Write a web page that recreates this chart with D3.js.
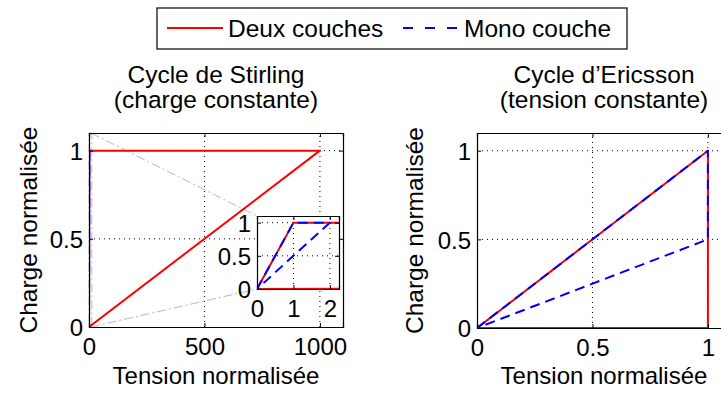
<!DOCTYPE html>
<html>
<head>
<meta charset="utf-8">
<script src="https://cdn.jsdelivr.net/npm/d3@7"></script>
<style>
  html, body { margin: 0; padding: 0; background: #fff; }
  svg { display: block; font-family: "Liberation Sans", Arial, sans-serif; }
</style>
</head>
<body>
<svg id="chart" width="721" height="394"></svg>
<script>
// Stirling cycle (constant charge): normalised voltage / charge paths
const stirlingTensionDeux = [0, 1, 1000, 0];
const stirlingChargeDeux  = [0, 1, 1, 0];
const stirlingTensionMono = [0, 1, 2, 0];
const stirlingChargeMono  = [0, 1, 1, 0];

// Ericsson cycle (constant voltage)
const ericssonTensionDeux = [0, 1, 1, 0];
const ericssonChargeDeux  = [0, 1, 0, 0];
const ericssonTensionMono = [0, 1, 1, 0];
const ericssonChargeMono  = [0, 1, 0.5, 0];

// Axis ticks
const stirlingXTicks = [0, 500, 1000];
const insetXTicks    = [0, 1, 2];
const ericssonXTicks = [0, 0.5, 1];
const chargeTicks    = [0, 0.5, 1];

// Zoomed region shown in the inset (Stirling plot)
const zoomTension = [0, 12];
const zoomCharge  = [0, 1.1];

const titles = [["Cycle de Stirling", "(charge constante)"], ["Cycle d\u2019Ericsson", "(tension constante)"]];
const legendLabels = ["Deux couches", "Mono couche"];
const xLabel = "Tension normalis\u00e9e";
const yLabel = "Charge normalis\u00e9e";

const RED = "#ff0000", BLUE = "#0000ff";
const FS = 24.5;      // titles, legend, y labels
const FS_TICK = 24;   // tick labels
const FS_XLAB = 24;   // x labels
const svg = d3.select("#chart");

const toPts = (xs, ys) => xs.map((x, i) => [x, ys[i]]);

function panel(opts) {
  const { x, y, ticksX, ticksY, fontSize, clipId } = opts;
  const g = svg.append("g");
  const [x0, x1] = x.range(), [y0, y1] = y.range();
  g.append("rect").attr("x", x0).attr("y", y1).attr("width", x1 - x0).attr("height", y0 - y1)
    .attr("fill", "#fff");
  // dotted grid
  const gridG = g.append("g").attr("stroke", "#000").attr("stroke-width", 1).attr("stroke-dasharray", "1,4");
  ticksX.filter(t => t !== 0).forEach(t => {
    gridG.append("line").attr("x1", x(t)).attr("x2", x(t)).attr("y1", y0).attr("y2", y1);
  });
  ticksY.filter(t => t !== 0).forEach(t => {
    gridG.append("line").attr("x1", x0).attr("x2", x1).attr("y1", y(t)).attr("y2", y(t));
  });
  svg.append("clipPath").attr("id", clipId).append("rect")
    .attr("x", x0).attr("y", y1).attr("width", x1 - x0).attr("height", y0 - y1);
  const guides = g.append("g");
  const plot = g.append("g").attr("clip-path", `url(#${clipId})`);
  const fmt = d => d3.format("")(d);
  // axes with inward ticks, box on all sides
  const tl = 4;
  const ax = [
    [d3.axisBottom(x).tickValues(ticksX).tickSize(-tl).tickFormat(fmt), `translate(0,${y0})`],
    [d3.axisTop(x).tickValues(ticksX).tickSize(-tl).tickFormat(""), `translate(0,${y1})`],
    [d3.axisLeft(y).tickValues(ticksY).tickSize(-tl).tickFormat(fmt), `translate(${x0},0)`],
    [d3.axisRight(y).tickValues(ticksY).tickSize(-tl).tickFormat(""), `translate(${x1},0)`]
  ];
  const axesG = g.append("g");
  ax.forEach(([a, tr], i) => {
    const ag = axesG.append("g").attr("transform", tr).call(a);
    ag.select(".domain").attr("stroke", "#000").attr("stroke-width", 1.2);
    ag.selectAll(".tick line").attr("stroke", "#000");
    ag.selectAll(".tick text").attr("font-size", fontSize).attr("fill", "#000")
      .attr("font-family", "Liberation Sans, Arial, sans-serif");
    if (i === 0) ag.selectAll(".tick text").attr("y", 0).attr("dy", 0).attr("transform", "translate(0,28)");
    if (i === 2) ag.selectAll(".tick text").attr("x", -6).attr("dy", "0.36em");
  });
  return { g, plot, guides };
}

function drawSeries(plot, x, y, pts, color, dashed) {
  const line = d3.line().x(d => x(d[0])).y(d => y(d[1]));
  plot.append("path").attr("d", line(pts)).attr("fill", "none")
    .attr("stroke", color).attr("stroke-width", 2)
    .attr("stroke-linejoin", "round")
    .attr("stroke-dasharray", dashed ? "10,6" : null);
}

// ---------- Stirling (left) ----------
const xS = d3.scaleLinear().domain([0, 1100]).range([89, 343]);
const yS = d3.scaleLinear().domain([0, 1.1]).range([327, 133]);
const pS = panel({ x: xS, y: yS, ticksX: stirlingXTicks, ticksY: chargeTicks, fontSize: FS_TICK, clipId: "clipS" });

// inset scales
const xI = d3.scaleLinear().domain([0, 2.25]).range([257, 339]);
const yI = d3.scaleLinear().domain([0, 1.1]).range([289, 216]);

// zoom rectangle and connectors (dash-dot grey)
const zr = pS.guides.append("g").attr("fill", "none").attr("stroke", "#b8b8b8").attr("stroke-width", 1)
  .attr("stroke-dasharray", "9,3,2,3");
zr.append("rect").attr("x", xS(zoomTension[0])).attr("y", yS(zoomCharge[1]))
  .attr("width", xS(zoomTension[1]) - xS(zoomTension[0]))
  .attr("height", yS(zoomCharge[0]) - yS(zoomCharge[1]));
zr.append("line").attr("x1", xS(zoomTension[0]) + 2).attr("y1", yS(zoomCharge[1]))
  .attr("x2", xI.range()[0]).attr("y2", yI.range()[1]);
zr.append("line").attr("x1", xS(zoomTension[0]) + 2).attr("y1", yS(zoomCharge[0]))
  .attr("x2", xI.range()[0]).attr("y2", yI.range()[0]);

drawSeries(pS.plot, xS, yS, toPts(stirlingTensionDeux, stirlingChargeDeux), RED, false);
drawSeries(pS.plot, xS, yS, toPts(stirlingTensionMono, stirlingChargeMono), BLUE, true);

// inset panel
const pI = panel({ x: xI, y: yI, ticksX: insetXTicks, ticksY: chargeTicks, fontSize: FS_TICK, clipId: "clipI" });
drawSeries(pI.plot, xI, yI, toPts(stirlingTensionDeux, stirlingChargeDeux), RED, false);
drawSeries(pI.plot, xI, yI, toPts(stirlingTensionMono, stirlingChargeMono), BLUE, true);

// ---------- Ericsson (right) ----------
const xE = d3.scaleLinear().domain([0, 1.1]).range([477, 731]);
const yE = d3.scaleLinear().domain([0, 1.1]).range([328, 133]);
const pE = panel({ x: xE, y: yE, ticksX: ericssonXTicks, ticksY: chargeTicks, fontSize: FS_TICK, clipId: "clipE" });
drawSeries(pE.plot, xE, yE, toPts(ericssonTensionDeux, ericssonChargeDeux), RED, false);
drawSeries(pE.plot, xE, yE, toPts(ericssonTensionMono, ericssonChargeMono), BLUE, true);

// ---------- titles and axis labels ----------
[[xS, yS], [xE, yE]].forEach(([x, y], i) => {
  const cx = (x.range()[0] + x.range()[1]) / 2;
  const cy = (y.range()[0] + y.range()[1]) / 2;
  const t = svg.append("text").attr("text-anchor", "middle").attr("font-size", FS).attr("fill", "#000");
  t.append("tspan").attr("x", cx).attr("y", 83).text(titles[i][0]);
  t.append("tspan").attr("x", cx).attr("y", 108).text(titles[i][1]);
  svg.append("text").attr("x", cx).attr("y", 384).attr("text-anchor", "middle")
    .attr("font-size", FS_XLAB).attr("fill", "#000").text(xLabel);
  const lx = i === 0 ? 37 : 423;
  svg.append("text").attr("transform", `translate(${lx},${cy}) rotate(-90)`)
    .attr("text-anchor", "middle").attr("font-size", FS).attr("fill", "#000").text(yLabel);
});

// ---------- legend ----------
const lg = svg.append("g");
lg.append("rect").attr("x", 157).attr("y", 8).attr("width", 470).attr("height", 41)
  .attr("fill", "#fff").attr("stroke", "#000").attr("stroke-width", 1.2);
const legendItems = [
  { x: 167, color: RED, dashed: false, label: legendLabels[0] },
  { x: 403, color: BLUE, dashed: true, label: legendLabels[1] }
];
legendItems.forEach(d => {
  lg.append("line").attr("x1", d.x).attr("x2", d.x + 56).attr("y1", 28).attr("y2", 28)
    .attr("stroke", d.color).attr("stroke-width", 2)
    .attr("stroke-dasharray", d.dashed ? "10,12" : null);
  lg.append("text").attr("x", d.x + 61).attr("y", 37)
    .attr("font-size", FS).attr("fill", "#000").text(d.label);
});
</script>
</body>
</html>
